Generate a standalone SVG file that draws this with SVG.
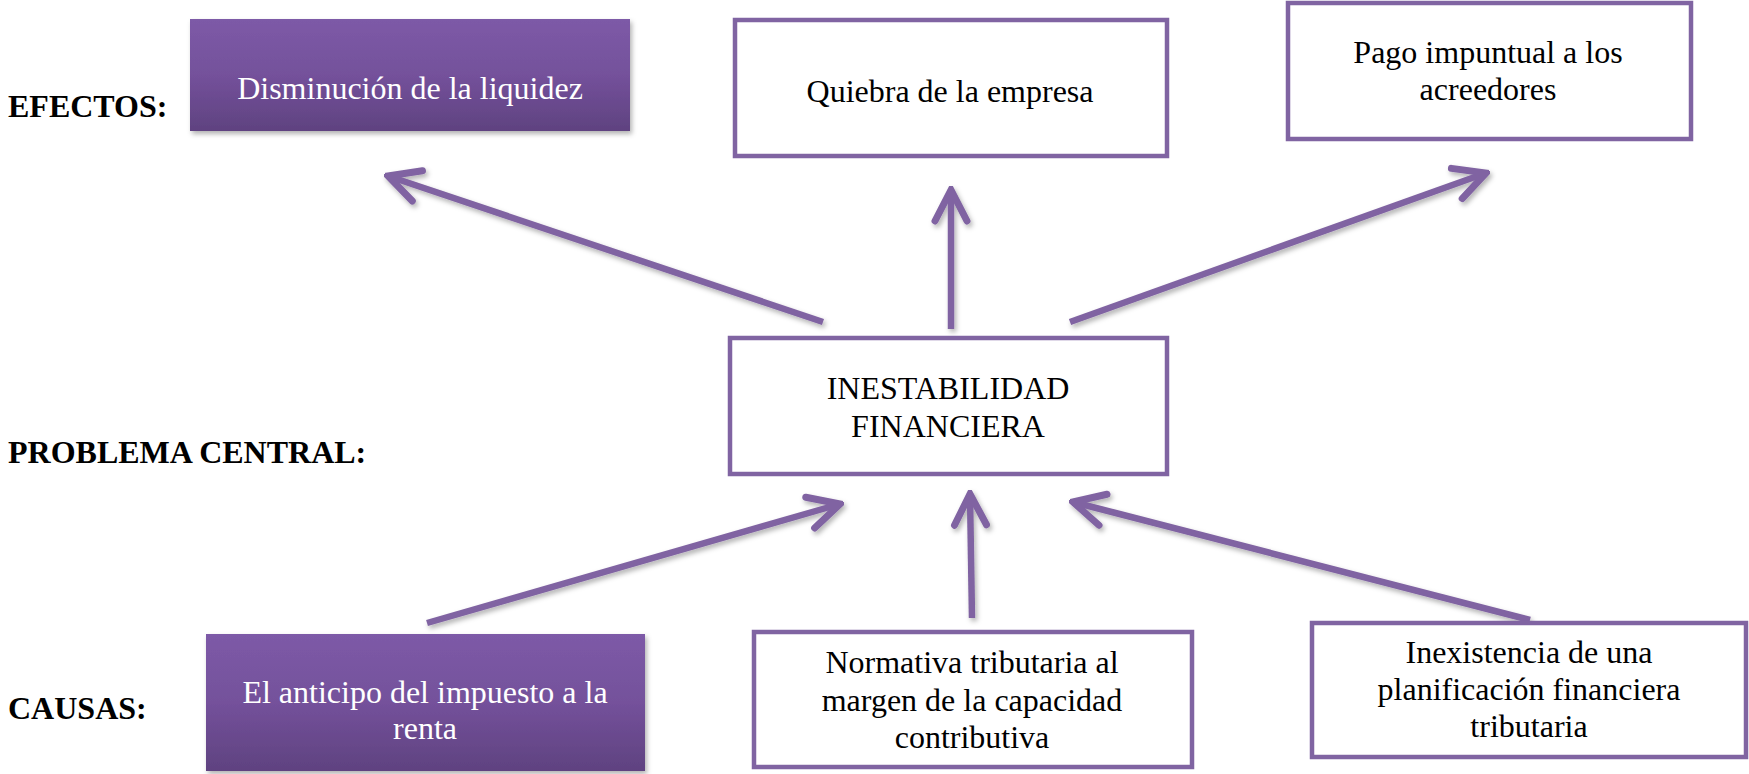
<svg xmlns="http://www.w3.org/2000/svg" width="1749" height="774" viewBox="0 0 1749 774">
<defs>
<linearGradient id="pg" x1="0" y1="0" x2="0" y2="1">
<stop offset="0" stop-color="#7d5aa7"/>
<stop offset="0.5" stop-color="#74519b"/>
<stop offset="1" stop-color="#5f4280"/>
</linearGradient>
<filter id="sh" filterUnits="userSpaceOnUse" x="0" y="0" width="1749" height="774">
<feDropShadow dx="2" dy="3" stdDeviation="2.5" flood-color="#000" flood-opacity="0.3"/>
</filter>
<marker id="ah" markerUnits="userSpaceOnUse" viewBox="-36 -20 40 40" markerWidth="40" markerHeight="40" refX="0" refY="0" orient="auto">
<path d="M-31,-16 L0,0 L-31,16" fill="none" stroke="#8064a2" stroke-width="7" stroke-linecap="round" stroke-linejoin="miter"/>
</marker>
<style>
.wb{fill:#ffffff;stroke:#8064a2;stroke-width:4.5}
.pb{fill:url(#pg);filter:url(#sh)}
.t{font-family:"Liberation Serif","Times New Roman",serif;font-size:32px;text-anchor:middle;fill:#000}
.tw{fill:#ffffff}
.lb{font-family:"Liberation Serif","Times New Roman",serif;font-size:32px;font-weight:bold;fill:#000}
.ar{fill:none;stroke:#8064a2;stroke-width:6.5;stroke-linecap:butt;marker-end:url(#ah);filter:url(#sh)}
</style>
</defs>
<rect width="1749" height="774" fill="#ffffff"/>
<g id="labels">
<text class="lb" x="8" y="117">EFECTOS:</text>
<text class="lb" x="8" y="463">PROBLEMA CENTRAL:</text>
<text class="lb" x="8" y="719">CAUSAS:</text>
</g>
<g id="connectors">
<line class="ar" x1="823" y1="322" x2="388" y2="176"/>
<line class="ar" x1="951" y1="329" x2="951" y2="190"/>
<line class="ar" x1="1070" y1="322" x2="1486" y2="173"/>
<line class="ar" x1="427" y1="623" x2="840" y2="504"/>
<line class="ar" x1="972" y1="618" x2="970" y2="494"/>
<line class="ar" x1="1530" y1="620" x2="1073" y2="502"/>
</g>
<g id="n-disminucion">
<rect class="pb" x="190" y="19" width="440" height="112"/>
<text class="t tw" x="410" y="99">Disminución de la liquidez</text>
</g>
<g id="n-quiebra">
<rect class="wb" x="735" y="20" width="432" height="136"/>
<text class="t" x="950" y="102">Quiebra de la empresa</text>
</g>
<g id="n-pago">
<rect class="wb" x="1288" y="3" width="403" height="136"/>
<text class="t" x="1488" y="63">Pago impuntual a los</text>
<text class="t" x="1488" y="100">acreedores</text>
</g>
<g id="n-inestabilidad">
<rect class="wb" x="730" y="338" width="437" height="136"/>
<text class="t" x="948" y="399">INESTABILIDAD</text>
<text class="t" x="948" y="437">FINANCIERA</text>
</g>
<g id="n-anticipo">
<rect class="pb" x="206" y="634" width="439" height="137"/>
<text class="t tw" x="425" y="703">El anticipo del impuesto a la</text>
<text class="t tw" x="425" y="739">renta</text>
</g>
<g id="n-normativa">
<rect class="wb" x="754" y="632" width="438" height="135"/>
<text class="t" x="972" y="673">Normativa tributaria al</text>
<text class="t" x="972" y="711">margen de la capacidad</text>
<text class="t" x="972" y="748">contributiva</text>
</g>
<g id="n-inexistencia">
<rect class="wb" x="1312" y="623" width="434" height="134"/>
<text class="t" x="1529" y="663">Inexistencia de una</text>
<text class="t" x="1529" y="700">planificación financiera</text>
<text class="t" x="1529" y="737">tributaria</text>
</g>
</svg>
